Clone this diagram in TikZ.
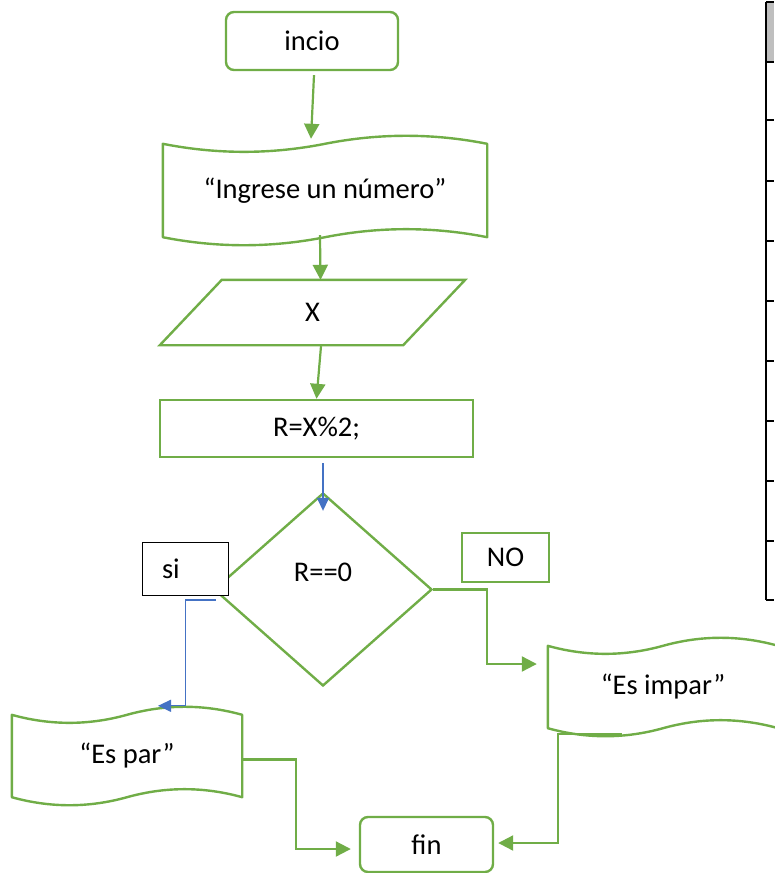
\documentclass[tikz,border=0pt]{standalone}
\usepackage{fontspec}
\setmainfont{Carlito}
\usepackage{tikz}
\usetikzlibrary{positioning,calc,shapes,arrows.meta}

\definecolor{flowgreen}{HTML}{70AD47}
\definecolor{flowblue}{HTML}{4472C4}
\definecolor{headgray}{HTML}{BFBFBF}

% punched tape outline drawn round an empty node
\newcommand{\tapeshape}[1]{%
  \draw[flowgreen, line width=2.4pt, line join=round]
    let \p1=(#1.north west), \p2=(#1.south east),
        \n1={(\x2-\x1)/6}, \n2={(\x1+\x2)/2} in
    (\x1,\y1) .. controls +(\n1,-10.7pt) and +(-\n1,-10.7pt) .. (\n2,\y1)
    .. controls +(\n1,10.7pt) and +(-\n1,10.7pt) .. (\x2,\y1)
    -- (\x2,\y2)
    .. controls +(-\n1,10.7pt) and +(\n1,10.7pt) .. (\n2,\y2)
    .. controls +(-\n1,-10.7pt) and +(\n1,-10.7pt) .. (\x1,\y2) -- cycle;}

\begin{document}
\begin{tikzpicture}[x=1pt, y=-1pt,
font=\fontsize{28.5}{34}\selectfont,
terminal/.style={rectangle, rounded corners=8pt, draw=flowgreen, line width=2.4pt, inner sep=0pt},
process/.style={rectangle, draw=flowgreen, line width=2.4pt, inner sep=0pt},
tape/.style={rectangle, inner sep=0pt, minimum width=230pt, minimum height=82pt},
io/.style={rectangle, inner sep=0pt, minimum width=243pt, minimum height=65pt},
decision/.style={diamond, draw=flowgreen, line width=2.4pt, inner sep=0pt, minimum width=218pt, minimum height=193pt},
tag/.style={rectangle, draw=black, line width=1pt, fill=white, inner sep=0pt},
arr/.style={draw=flowgreen, line width=2.2pt, -{Triangle[length=15pt,width=15pt]}},
bluearr/.style={draw=flowblue, line width=1.3pt, -{Triangle[length=13pt,width=12pt]}}
]
	\useasboundingbox (0,0) rectangle (774,873);

	\node at (312,41) [terminal, minimum width=172pt, minimum height=58pt] (inicio) {incio};
	\node at (325,190.5) [tape, minimum width=324pt, minimum height=93pt] (ingreso) {“Ingrese un número”};
	\node at (312.5,312.5) [io] (lectura) {X};
	\node at (316.5,428.5) [process, minimum width=313pt, minimum height=57pt] (resto) {R=X\%2;};
	\node at (323,589.5) [decision, label={[yshift=17pt]center:R==0}] (cond) {};
	\node at (185,568.5) [tag, minimum width=86pt, minimum height=53pt, text width=46pt, inner xsep=20pt, align=left] (si) {si};
	\node at (505.5,557.5) [process, line width=2pt, minimum width=87pt, minimum height=49pt] (no) {NO};
	\node at (663,687) [tape] (impar) {“Es impar”};
	\node at (127,756) [tape] (par) {“Es par”};
	\node at (426.5,844.5) [terminal, minimum width=133pt, minimum height=55pt] (fin) {fin};

	\tapeshape{ingreso}
	\tapeshape{impar}
	\tapeshape{par}
	\draw [flowgreen, line width=2.4pt] ([xshift=31pt]lectura.north west) -- ([xshift=31pt]lectura.north east)
		-- ([xshift=-31pt]lectura.south east) -- ([xshift=-31pt]lectura.south west) -- cycle;

	\draw [arr] ([xshift=2pt,yshift=-4pt]inicio.south) -- ([xshift=-14pt,yshift=5pt]ingreso.north);
	\draw [arr] ([xshift=-5pt,yshift=2pt]ingreso.south) -- ([xshift=8pt]lectura.north);
	\draw [arr] ([xshift=8.5pt,yshift=-1pt]lectura.south) -- (resto.north);
	\draw [bluearr] ([xshift=6.5pt,yshift=-5pt]resto.south) -- ([yshift=-19pt]cond.north);

	\draw [arr] (cond.east) -- ++(54,0) |- ([xshift=-11pt,yshift=23pt]impar.west);
	\draw [bluearr] ([xshift=3pt,yshift=-10.5pt]cond.west) -- ++(-30,0) |- ([xshift=31pt,yshift=9pt]par.north);

	\draw [arr] ([yshift=-3.5pt]par.east) -- ++(54,0) |- ([xshift=-8pt,yshift=-4.5pt]fin.west);
	\draw [arr] ([xshift=-41pt,yshift=-6pt]impar.south) -- ++(-64,0) |- ([xshift=4pt,yshift=1.5pt]fin.east);

	% table edge on the right
	\fill [headgray] (766,2) rectangle (774,62);
	\draw [line width=2pt] (766,2) -- (766,600);
	\foreach \ty in {2,62,120,181,241,301,361,421,481,541,600}
		\draw [line width=2pt] (766,\ty) -- (774,\ty);
\end{tikzpicture}
\end{document}
